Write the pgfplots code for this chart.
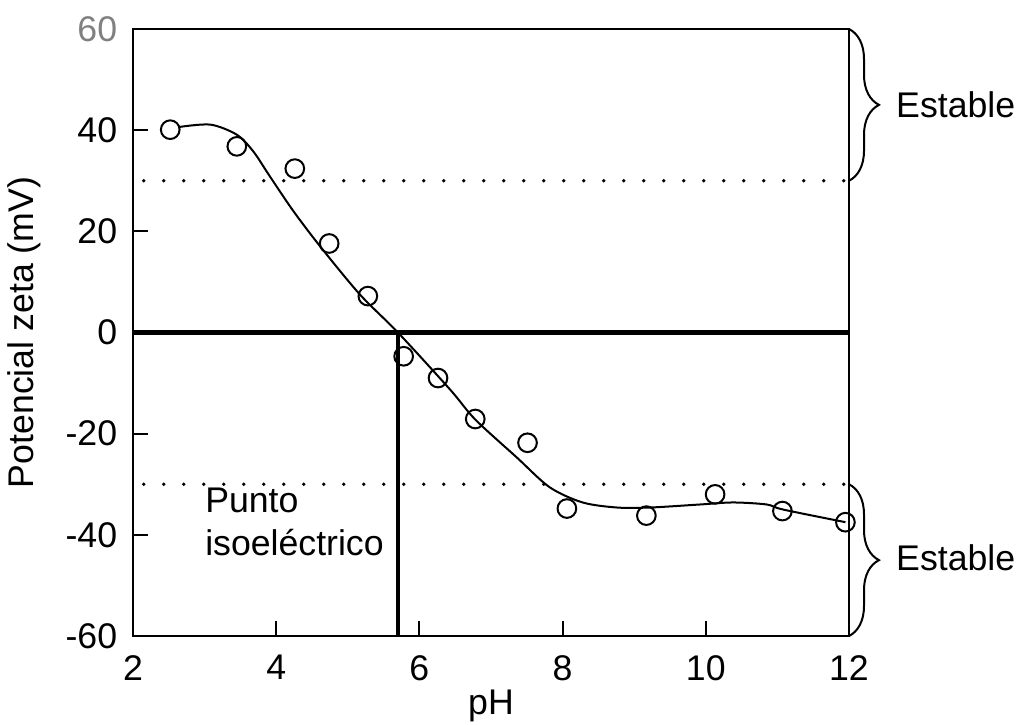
\documentclass[border=0pt]{standalone}
\usepackage{pgfplots}
\pgfplotsset{compat=1.18}
\usepackage{fontspec}
\setmainfont{Liberation Sans}
\usetikzlibrary{decorations.pathreplacing,calc}
\pgfplotstableread{
x y
2.52 40.1
3.45 36.8
4.26 32.4
4.74 17.6
5.28 7.2
5.78 -4.7
6.26 -9.0
6.78 -17.1
7.51 -21.8
8.06 -34.8
9.17 -36.2
10.13 -32.0
11.07 -35.3
11.95 -37.5
}\pts
\pgfplotstableread{
x y
2.63 40.6
3.08 41.1
3.45 39.1
3.68 35.8
3.91 30.9
4.24 24.0
4.61 17.1
5.17 7.5
5.70 0
6.43 -11.3
6.78 -17.2
7.36 -24.7
7.82 -30.6
8.28 -33.6
8.76 -34.6
9.22 -34.6
9.92 -34.0
10.38 -33.6
10.85 -34.0
11.08 -35.0
11.95 -37.5
}\fit
\newcommand{\fs}{\fontsize{10.7}{12.8}\selectfont}
\begin{document}
\fs
\begin{tikzpicture}
\begin{axis}[name=ax,
  scale only axis, width=214.8pt, height=182.1pt,
  xmin=2, xmax=12, ymin=-60, ymax=60,
  xtick={2,4,...,12}, ytick={-60,-40,...,60},
  yticklabels={-60,-40,-20,0,20,40,{\color{gray}60}},
  tick align=inside, major tick length=4.5pt,
  xtick pos=bottom, ytick pos=left,
  axis line style={line width=0.6pt},
  tick style={line width=0.6pt, black},
  ticklabel style={font=\fs},
  xticklabel style={yshift=-2pt},
  yticklabel style={xshift=-1pt},
  /pgf/number format/assume math mode=true,
  xlabel={pH}, ylabel={Potencial zeta (mV)},
  xlabel style={font=\fs, yshift=4.5pt},
  ylabel style={font=\fs, yshift=0pt},
  clip=false,
]
\addplot[black, line width=1.1pt, dash pattern=on 0pt off 6pt, line cap=round, forget plot] coordinates {(2.15,30) (12,30)};
\addplot[black, line width=1.1pt, dash pattern=on 0pt off 6pt, line cap=round, forget plot] coordinates {(2.15,-30) (12,-30)};
\addplot[black, line width=1.3pt] coordinates {(2,0) (12,0)};
\addplot[black, line width=1.3pt] coordinates {(5.7,0) (5.7,-60)};
\addplot[black, line width=0.6pt, smooth, tension=0.5] table {\fit};
\addplot[only marks, mark=o, mark size=2.8pt, mark options={line width=0.6pt, fill=none}, black] table {\pts};
\draw[line width=0.6pt, decorate, decoration={brace, amplitude=9pt}] (axis cs:12,60) -- (axis cs:12,30);
\draw[line width=0.6pt, decorate, decoration={brace, amplitude=9pt}] (axis cs:12,-30) -- (axis cs:12,-60);
\node[anchor=west, inner sep=0pt, font=\fs] at (axis cs:12.65,45) {Estable};
\node[anchor=west, inner sep=0pt, font=\fs] at (axis cs:12.65,-44.6) {Estable};
\node[anchor=west, inner sep=0pt, align=left, font=\fs] at (axis cs:3.0,-37.5) {Punto\\isoeléctrico};
\end{axis}
\pgfresetboundingbox
\path[use as bounding box] ($(ax.south west)+(-39.9pt,-26.4pt)$) rectangle ($(ax.north east)+(50.7pt,8.7pt)$);
\end{tikzpicture}
\end{document}
